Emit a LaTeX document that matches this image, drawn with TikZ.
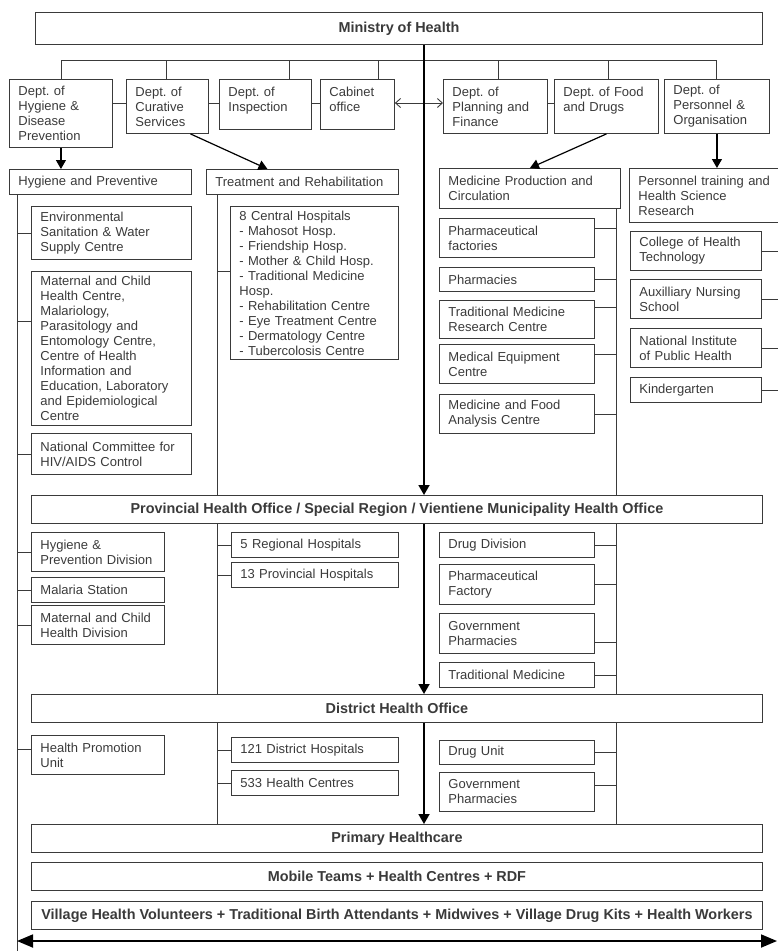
\documentclass[tikz,border=0pt]{standalone}
\usepackage{fontspec}
\setmainfont{Liberation Sans}
\usetikzlibrary{arrows.meta}
\definecolor{boxc}{HTML}{3A3A3A}
\frenchspacing

\begin{document}
\begin{tikzpicture}[x=1pt,y=-1pt,
  box/.style 2 args={draw=boxc, line width=0.9pt, text=boxc, anchor=north west, align=left, inner xsep=9pt, inner ysep=2pt, text width=#1, minimum height=#2, font=\fontsize{13}{15}\selectfont},
  tier/.style={draw=boxc, line width=0.9pt, text=boxc, anchor=north west, minimum width=731pt, minimum height=28pt, font=\bfseries\fontsize{14.4}{16}\selectfont},
  wire/.style={draw=boxc, line width=0.9pt},
  spine/.style={line width=1.8pt, -{Triangle[length=10pt,width=11pt]}},
  feed/.style={line width=1.2pt, -{Triangle[length=9pt,width=10pt]}},
  span/.style={line width=1.8pt, {Triangle[length=16pt,width=13pt]}-{Triangle[length=16pt,width=13pt]}}]
\useasboundingbox (0,0) rectangle (778,951);
\clip (0,0) rectangle (778,951);
%\draw[step=50,gray,very thin] (0,0) grid (778,951); %background grid

% ministry and departments
\node[tier, minimum width=727pt, minimum height=32pt] (moh) at (35,12) {Ministry of Health};
\node[box={85pt}{68pt}] (dhyg) at (9,79) {Dept. of\\Hygiene \&\\Disease\\Prevention};
\node[box={64pt}{54pt}] (dcur) at (126,79) {Dept. of\\Curative\\Services};
\node[box={74pt}{50pt}, text depth=25pt] (dins) at (219,79) {Dept. of\\Inspection};
\node[box={56pt}{50pt}, text depth=25pt] (dcab) at (320,79) {Cabinet\\office};
\node[box={86pt}{54pt}] (dplan) at (443,79) {Dept. of\\Planning and\\Finance};
\node[box={86pt}{54pt}, text depth=29pt] (dfood) at (554,79) {Dept. of Food\\and Drugs};
\node[box={87pt}{54pt}] (dpers) at (664,79) {Dept. of\\Personnel \&\\Organisation};

% central level
\node[box={164pt}{25pt}] (hyg) at (9,169) {Hygiene and Preventive};
\node[box={174pt}{25pt}] (treat) at (206,169) {Treatment and Rehabilitation};
\node[box={163pt}{40pt}] (med) at (439,168) {Medicine Production and\\Circulation};
\node[box={142pt}{54pt}] (pers) at (629,168) {Personnel training and\\Health Science\\Research};

\node[box={142pt}{53pt}] (env) at (31,206) {Environmental\\Sanitation \& Water\\Supply Centre};
\node[box={142pt}{154pt}] (mch) at (31,271) {Maternal and Child\\Health Centre,\\Malariology,\\Parasitology and\\Entomology Centre,\\Centre of Health\\Information and\\Education, Laboratory\\and Epidemiological\\Centre};
\node[box={142pt}{41pt}] (hiv) at (31,433) {National Committee for\\HIV/AIDS Control};

\node[box={150pt}{153pt}] (central) at (230,206) {8 Central Hospitals\\- Mahosot Hosp.\\- Friendship Hosp.\\- Mother \& Child Hosp.\\- Traditional Medicine\\Hosp.\\- Rehabilitation Centre\\- Eye Treatment Centre\\- Dermatology Centre\\- Tubercolosis Centre};

\node[box={137pt}{39pt}] (phfac) at (439,218) {Pharmaceutical\\factories};
\node[box={137pt}{24pt}] (pharm) at (439,267) {Pharmacies};
\node[box={137pt}{38pt}] (tmrc) at (439,300) {Traditional Medicine\\Research Centre};
\node[box={137pt}{39pt}] (medeq) at (439,344) {Medical Equipment\\Centre};
\node[box={137pt}{39pt}] (mfa) at (439,394) {Medicine and Food\\Analysis Centre};

\node[box={113pt}{39pt}] (coll) at (630,231) {College of Health\\Technology};
\node[box={113pt}{39pt}] (aux) at (630,279) {Auxilliary Nursing\\School};
\node[box={113pt}{39pt}] (nips) at (630,328) {National Institute\\of Public Health};
\node[box={113pt}{25pt}] (kind) at (630,377) {Kindergarten};

% provincial level
\node[tier] (prov) at (31,495) {Provincial Health Office / Special Region / Vientiene Municipality Health Office};
\node[box={115pt}{39pt}] (hpd) at (31,532) {Hygiene \&\\Prevention Division};
\node[box={115pt}{25pt}] (mal) at (31,577) {Malaria Station};
\node[box={115pt}{39pt}] (mchd) at (31,605) {Maternal and Child\\Health Division};
\node[box={149pt}{25pt}] (reg) at (231,532) {5 Regional Hospitals};
\node[box={149pt}{25pt}] (provh) at (231,562) {13 Provincial Hospitals};
\node[box={137pt}{25pt}] (drugdiv) at (439,532) {Drug Division};
\node[box={137pt}{40pt}] (phfact) at (439,564) {Pharmaceutical\\Factory};
\node[box={137pt}{40pt}] (gph) at (439,613) {Government\\Pharmacies};
\node[box={137pt}{25pt}] (tradm) at (439,662) {Traditional Medicine};

% district level
\node[tier] (dist) at (31,694) {District Health Office};
\node[box={115pt}{39pt}] (hpu) at (31,735) {Health Promotion\\Unit};
\node[box={149pt}{25pt}] (disth) at (231,737) {121 District Hospitals};
\node[box={149pt}{25pt}] (hc) at (231,770) {533 Health Centres};
\node[box={137pt}{24pt}] (drugu) at (439,740) {Drug Unit};
\node[box={137pt}{39pt}] (gph2) at (439,772) {Government\\Pharmacies};

% community level
\node[tier] (phc) at (31,824) {Primary Healthcare};
\node[tier] (mob) at (31,862) {Mobile Teams + Health Centres + RDF};
\node[tier] (vil) at (31,901) {Village Health Volunteers + Traditional Birth Attendants + Midwives + Village Drug Kits + Health Workers};

% trunks
\coordinate (sp) at (424,0);
\coordinate (lnk) at (0,103);
\coordinate (lt) at (17,0);
\coordinate (tt) at (217,0);
\coordinate (mt) at (616,0);
\coordinate (pt) at (790,0);
\coordinate (ltend) at (17,951);
\coordinate (bl) at (17,941);
\coordinate (br) at (777,941);

\foreach \n/\x in {dhyg/61,dcur/166,dins/289,dcab/378,dplan/498,dfood/608,dpers/716}{
  \coordinate (b\n) at (\x,60);
  \draw[wire] (b\n) -- (b\n |- \n.north);
}
\draw[wire] (bdhyg) -- (bdpers);
\foreach \a/\b in {dhyg/dcur,dcur/dins,dins/dcab,dplan/dfood}
  \draw[wire] (\a.east |- lnk) -- (\b.west |- lnk);
\draw[wire, {Straight Barb[length=5pt,width=9pt]}-{Straight Barb[length=5pt,width=9pt]}] (dcab.east |- lnk) -- (dplan.west |- lnk);

\draw[spine] (sp |- moh.south) -- (sp |- prov.north);
\draw[spine] (sp |- prov.south) -- (sp |- dist.north);
\draw[spine] (sp |- dist.south) -- (sp |- phc.north);

\draw[feed] (dhyg.south) -- (dhyg.south |- hyg.north);
\draw[feed] (dcur.-50) -- ([xshift=-35pt]treat.north);
\draw[feed] (dfood.south) -- (med.north);
\draw[feed] (dpers.south) -- (dpers.south |- pers.north);

% hygiene column
\draw[wire] (lt |- hyg.south) -- (ltend);
\foreach \n in {env,hiv,hpd,mal,mchd}
  \draw[wire] (\n.west) -- (\n.west -| lt);
\draw[wire] ([yshift=27pt]mch.west) -- ([yshift=27pt]mch.west -| lt);
\draw[wire] ([yshift=6pt]hpu.west) -- ([yshift=6pt]hpu.west -| lt);

% treatment column
\draw[wire] (tt |- treat.south) -- (tt |- prov.north);
\draw[wire] (tt |- prov.south) -- (tt |- dist.north);
\draw[wire] (tt |- dist.south) -- (tt |- phc.north);
\foreach \n in {reg,provh,disth,hc}
  \draw[wire] (\n.west) -- (\n.west -| tt);
\draw[wire] ([yshift=12pt]central.west) -- ([yshift=12pt]central.west -| tt);

% medicine column
\draw[wire] (mt |- med.south) -- (mt |- prov.north);
\draw[wire] (mt |- prov.south) -- (mt |- dist.north);
\draw[wire] (mt |- dist.south) -- (mt |- phc.north);
\foreach \n in {pharm,mfa,drugdiv,phfact,tradm,drugu}
  \draw[wire] (\n.east) -- (\n.east -| mt);
\foreach \n/\s in {phfac/10,tmrc/12,medeq/10,gph/-9,gph2/7}
  \draw[wire] ([yshift=\s pt]\n.east) -- ([yshift=\s pt]\n.east -| mt);

% personnel column
\foreach \n in {coll,aux,nips,kind}
  \draw[wire] (\n.east) -- (\n.east -| pt);

\draw[span] (bl) -- (br);
\end{tikzpicture}
\end{document}
